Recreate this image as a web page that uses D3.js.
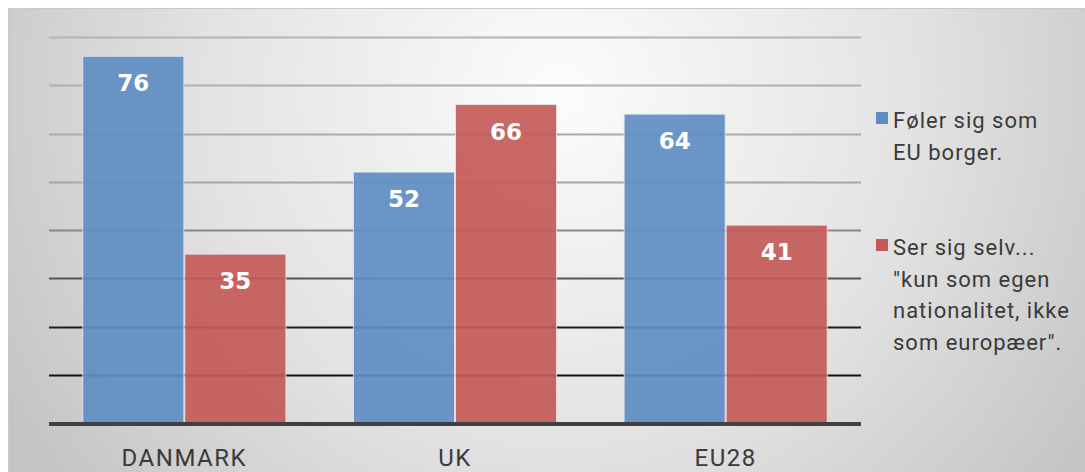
<!DOCTYPE html>
<html>
<head>
<meta charset="utf-8">
<script src="https://cdn.jsdelivr.net/npm/d3@7"></script>
<style>
  html, body { margin: 0; padding: 0; background: #fff; }
  svg { display: block; }
</style>
</head>
<body>
<div id="chart"></div>
<script>
const categories = ["DANMARK", "UK", "EU28"];
const seriesNames = ["Føler sig som EU borger.", "Ser sig selv... \"kun som egen nationalitet, ikke som europæer\"."];
const feelEU = [76, 52, 64];
const ownNationality = [35, 66, 41];
const gridTicks = [10, 20, 30, 40, 50, 60, 70, 80];
const legendLines = [
    ["Føler sig som", "EU borger."],
    ["Ser sig selv...", "\"kun som egen", "nationalitet, ikke", "som europæer\"."]
];

const width = 1085;
const height = 472;
const margin = { top: 37, right: 224, bottom: 49, left: 49 };
const colors = ["#5f8cc3", "#c45a58"];

const svg = d3.select("#chart").append("svg")
    .attr("width", width)
    .attr("height", height);

// background gradient
const defs = svg.append("defs");
const grad = defs.append("radialGradient")
    .attr("id", "bg")
    .attr("gradientUnits", "userSpaceOnUse")
    .attr("cx", 560).attr("cy", 90).attr("r", 640);
grad.append("stop").attr("offset", "0%").attr("stop-color", "#fcfcfc");
grad.append("stop").attr("offset", "55%").attr("stop-color", "#e3e3e3");
grad.append("stop").attr("offset", "100%").attr("stop-color", "#c4c4c4");

svg.append("rect")
    .attr("x", 8.5).attr("y", 8.5)
    .attr("width", width).attr("height", height)
    .attr("fill", "url(#bg)")
    .attr("stroke", "#c9c9c9");

const x0 = d3.scaleBand()
    .domain(categories)
    .range([margin.left, width - margin.right])
    .paddingInner(0.246)
    .paddingOuter(0.123);

const x1 = d3.scaleBand()
    .domain([0, 1])
    .range([0, x0.bandwidth()])
    .padding(0);

const y = d3.scaleLinear()
    .domain([0, 80])
    .range([height - margin.bottom, margin.top]);

// grid lines, darker towards the bottom
const gridColor = d3.scaleLinear()
    .domain([10, 20, 30, 40, 50, 80])
    .range(["#111", "#1c1c1c", "#555", "#888", "#a6a6a6", "#b4b4b4"]);

svg.append("g")
    .selectAll("line")
    .data(gridTicks)
    .enter()
    .append("line")
    .attr("x1", margin.left)
    .attr("x2", width - margin.right)
    .attr("y1", d => Math.round(y(d)) + 0.5)
    .attr("y2", d => Math.round(y(d)) + 0.5)
    .attr("stroke", d => gridColor(d))
    .attr("stroke-width", 2);

const rows = categories.map((c, i) => ({ cat: c, values: [feelEU[i], ownNationality[i]] }));

const groups = svg.append("g")
    .selectAll("g")
    .data(rows)
    .enter()
    .append("g")
    .attr("transform", d => `translate(${x0(d.cat)},0)`);

groups.selectAll("rect")
    .data(d => d.values.map((v, k) => ({ v, k })))
    .enter()
    .append("rect")
    .attr("x", d => x1(d.k) + 0.5)
    .attr("y", d => y(d.v))
    .attr("width", x1.bandwidth() - 1)
    .attr("height", d => y(0) - y(d.v))
    .attr("fill", d => colors[d.k])
    .attr("fill-opacity", 0.92)
    .attr("stroke", "#e6eaf0")
    .attr("stroke-opacity", 0.8)
    .attr("stroke-width", 1);

groups.selectAll("text")
    .data(d => d.values.map((v, k) => ({ v, k })))
    .enter()
    .append("text")
    .attr("x", d => x1(d.k) + x1.bandwidth() / 2)
    .attr("y", d => y(d.v) + 35)
    .attr("text-anchor", "middle")
    .attr("fill", "#fff")
    .style("font-family", "'DejaVu Sans', sans-serif")
    .style("font-weight", "bold")
    .style("font-size", "23px")
    .text(d => d.v);

// baseline
svg.append("line")
    .attr("x1", margin.left)
    .attr("x2", width - margin.right)
    .attr("y1", y(0) + 1)
    .attr("y2", y(0) + 1)
    .attr("stroke", "#404040")
    .attr("stroke-width", 4);

// category labels
svg.append("g")
    .selectAll("text")
    .data(categories)
    .enter()
    .append("text")
    .attr("x", d => x0(d) + x0.bandwidth() / 2)
    .attr("y", 466)
    .attr("text-anchor", "middle")
    .attr("fill", "#3a3a3a")
    .style("font-family", "Roboto, sans-serif")
    .style("font-size", "24px")
    .style("letter-spacing", "1.5px")
    .text(d => d);

// legend
const legendTop = [120, 247];
const legend = svg.append("g")
    .selectAll("g")
    .data(seriesNames)
    .enter()
    .append("g")
    .attr("transform", (d, i) => `translate(876,${legendTop[i]})`);

legend.append("rect")
    .attr("x", 0).attr("y", -8)
    .attr("width", 12).attr("height", 12)
    .attr("fill", (d, i) => colors[i]);

legend.append("text")
    .attr("x", 17)
    .attr("y", 8)
    .attr("fill", "#3a3a3a")
    .style("font-family", "Roboto, sans-serif")
    .style("font-size", "22px")
    .style("letter-spacing", "1px")
    .selectAll("tspan")
    .data((d, i) => legendLines[i])
    .enter()
    .append("tspan")
    .attr("x", 17)
    .attr("dy", (d, j) => j === 0 ? 0 : 31.5)
    .text(d => d);
</script>
</body>
</html>
